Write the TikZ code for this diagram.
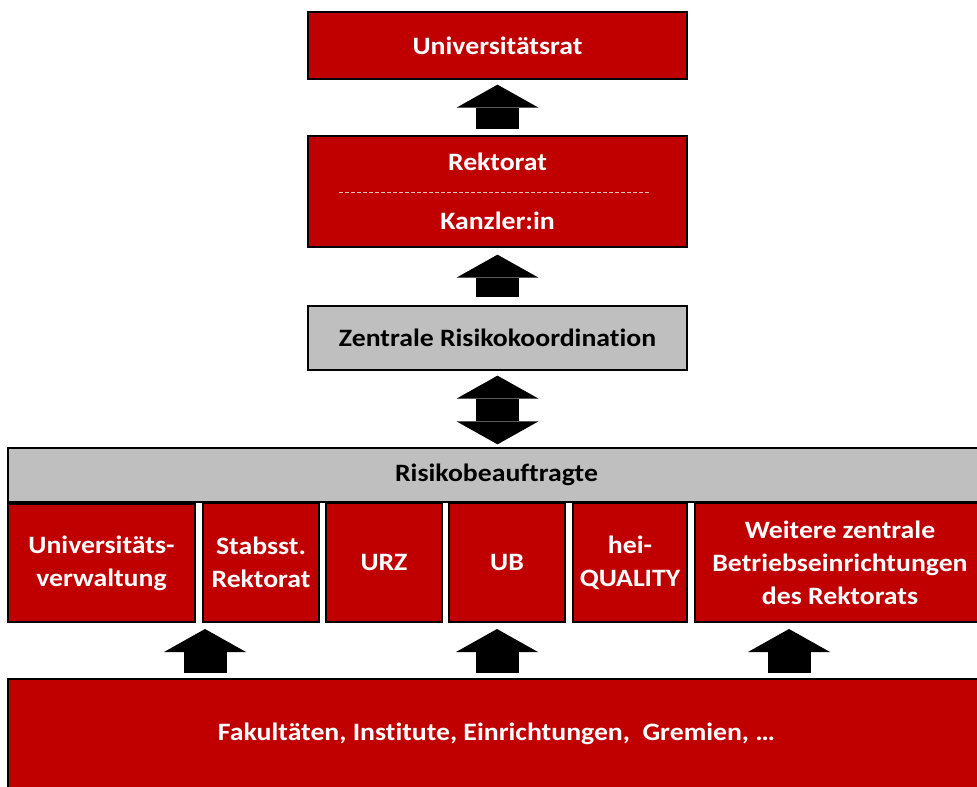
\documentclass[tikz,border=0pt]{standalone}
\usepackage{fontspec}
\setmainfont{Carlito}[FakeStretch=1.11,RawFeature={-liga;-clig;-calt;-dlig}]
\usetikzlibrary{arrows.meta}
\definecolor{hdred}{HTML}{C00000}
\definecolor{hdgray}{HTML}{BFBFBF}
\begin{document}
\begin{tikzpicture}[x=1bp,y=-1bp,
    box/.style={draw=black,line width=1.3bp,inner sep=0pt,align=center,
      font=\fontsize{25bp}{33bp}\selectfont\bfseries},
    redbox/.style={box,fill=hdred,text=white},
    graybox/.style={box,fill=hdgray,text=black},
    blockarrow/.style={line width=43bp,
      -{Triangle[length=23bp,width=82bp,line width=0pt]}},
    twoway/.style={line width=43bp,
      {Triangle[length=23bp,width=82bp,line width=0pt]}-{Triangle[length=23bp,width=82bp,line width=0pt]}},
    sepline/.style={draw=white!75!hdred,line width=0.9bp,dash pattern=on 4bp off 2bp}]
      \useasboundingbox (0,0) rectangle (977,787);
      \clip (0,0) rectangle (977,787);
      % top of the hierarchy
      \node[redbox,minimum width=379bp,minimum height=67bp] (rat) at (497.5,45.5) {Universitätsrat};
      \node[redbox,minimum width=379bp,minimum height=111bp] (rek) at (497.5,191.5) {Rektorat\\[26bp]Kanzler:in};
      \draw[sepline] ([xshift=32bp,yshift=-0.5bp]rek.west) -- ([xshift=-37bp,yshift=-0.5bp]rek.east);
      \node[graybox,minimum width=379bp,minimum height=64bp] (zrk) at (497.5,338) {Zentrale Risikokoordination};
      % risk officers
      \node[graybox,minimum width=977bp,minimum height=54bp] (risk) at (496.5,475) {Risikobeauftragte};
      \node[redbox,minimum width=187bp,minimum height=118bp] (verw) at (101.5,563) {Universitäts-\\verwaltung};
      \node[redbox,minimum width=116bp,minimum height=119bp] (stab) at (261,562.5) {Stabsst.\\Rektorat};
      \node[redbox,minimum width=116bp,minimum height=119bp] (urz) at (384,562.5) {URZ};
      \node[redbox,minimum width=116bp,minimum height=119bp] (ub) at (507,562.5) {UB};
      \node[redbox,minimum width=114bp,minimum height=119bp] (hei) at (630,562.5) {hei-\\QUALITY};
      \node[redbox,minimum width=290bp,minimum height=119bp] (wei) at (840,562.5) {Weitere zentrale\\Betriebseinrichtungen\\des Rektorats};
      \node[redbox,minimum width=977bp,minimum height=110bp] (fak) at (496.5,734) {Fakultäten, Institute, Einrichtungen,\ \ Gremien, \dots};
      % feet and heads of the lower arrows
      \coordinate (f1) at (205,679);
      \coordinate (f2) at (497,679);
      \coordinate (f3) at (789,679);
      \coordinate (t1) at (205,622);
      \coordinate (t2) at (497,622);
      \coordinate (t3) at (789,622);
      \begin{scope}[black]
        \draw[blockarrow,shorten <=6bp,shorten >=5bp] (rek.north) to (rat.south);
        \draw[blockarrow,shorten <=8bp,shorten >=7bp] (zrk.north) to (rek.south);
        \draw[twoway,shorten <=3bp,shorten >=5bp] (risk.north -| zrk.south) to (zrk.south);
        \draw[blockarrow,shorten <=6bp,shorten >=7bp] (f1) to (t1);
        \draw[blockarrow,shorten <=6bp,shorten >=7bp] (f2) to (t2);
        \draw[blockarrow,shorten <=6bp,shorten >=7bp] (f3) to (t3);
      \end{scope}
    \end{tikzpicture}
\end{document}
